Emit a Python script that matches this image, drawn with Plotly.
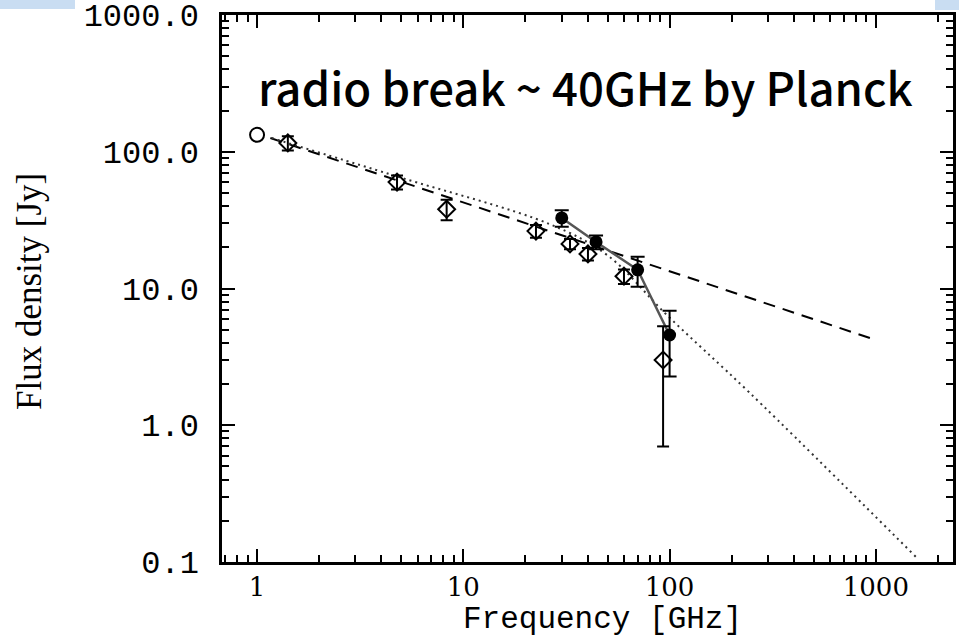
import plotly.graph_objects as go

# ---- data ----
# open circle (lowest frequency point)
circ_f = [1.0]
circ_s = [133.0]

# open diamonds with error bars
dia_f = [1.41, 4.77, 8.3, 22.5, 32.9, 40.2, 60.1, 93.0]
dia_s = [116.0, 60.0, 38.0, 26.3, 21.2, 17.9, 12.3, 3.0]
dia_e = [14.0, 7.0, 6.5, 2.8, 1.8, 1.9, 1.5, 2.3]

# filled circles (Planck) with error bars
pl_f = [30.0, 44.0, 70.0, 100.0]
pl_s = [32.8, 21.9, 13.7, 4.57]
pl_e = [4.5, 2.5, 3.4, 2.3]

# dashed power-law fit
dash_f = [1.16, 1000.0]
dash_s = [126.0, 4.2]

# dotted broken power-law fit
dot_f = [1.18, 4.93, 26.3, 49.7, 97.0, 245.0, 1582.0]
dot_s = [126.0, 65.0, 29.5, 17.6, 6.4, 1.72, 0.107]

x_tickvals = [1, 10, 100, 1000]
x_ticktext = ["1", "10", "100", "1000"]
y_tickvals = [0.1, 1, 10, 100, 1000]
y_ticktext = ["0.1", "1.0", "10.0", "100.0", "1000.0"]

title_text = "radio break ~ 40GHz by Planck"
x_title = "Frequency [GHz]"
y_title = "Flux density [Jy]"

# minor tick positions
x_minor = []
for dec in [0.1, 1, 10, 100, 1000]:
    for m in range(2, 10):
        v = m * dec
        if 0.67 <= v <= 2400:
            x_minor.append(v)
y_minor = []
for dec in [0.1, 1, 10, 100]:
    for m in range(2, 10):
        y_minor.append(m * dec)

XR = [-0.17, 3.374]
YR = [-1.0005, 3.0005]

fig = go.Figure()

fig.add_trace(go.Scatter(x=dash_f, y=dash_s, mode="lines",
                         line=dict(color="black", width=2, dash="12px,8px"),
                         showlegend=False))
fig.add_trace(go.Scatter(x=dot_f, y=dot_s, mode="lines", line_shape="spline",
                         line=dict(color="#333333", width=2, dash="2px,4px"),
                         showlegend=False))
fig.add_trace(go.Scatter(x=pl_f, y=pl_s, mode="lines",
                         line=dict(color="#555555", width=2.5),
                         showlegend=False))
fig.add_trace(go.Scatter(x=dia_f, y=dia_s, mode="markers",
                         marker=dict(symbol="diamond-open", size=13, color="black",
                                     line=dict(color="black", width=2)),
                         error_y=dict(type="data", array=dia_e, color="black",
                                      thickness=2, width=6),
                         showlegend=False))
fig.add_trace(go.Scatter(x=pl_f, y=pl_s, mode="markers",
                         marker=dict(symbol="circle", size=13, color="black"),
                         error_y=dict(type="data", array=pl_e, color="black",
                                      thickness=2, width=7),
                         showlegend=False))
# open circle drawn on the overlay axes (identical ranges) so they carry minor ticks
fig.add_trace(go.Scatter(x=circ_f, y=circ_s, mode="markers", xaxis="x2", yaxis="y2",
                         marker=dict(symbol="circle-open", size=14, color="black",
                                     line=dict(color="black", width=2)),
                         showlegend=False))

fig.update_layout(
    width=959, height=639,
    margin=dict(l=222, r=6, t=15, b=77, autoexpand=False),
    paper_bgcolor="white", plot_bgcolor="white",
    xaxis=dict(type="log", range=XR, automargin=False,
               tickvals=x_tickvals, ticktext=x_ticktext,
               ticks="inside", ticklen=13, tickwidth=2, tickcolor="black",
               showline=True, linewidth=2.5, linecolor="black", mirror="allticks",
               showgrid=False, zeroline=False,
               tickfont=dict(family="DejaVu Serif", size=26, color="black"),
               ticklabelstandoff=0),
    yaxis=dict(type="log", range=YR, automargin=False,
               tickvals=y_tickvals, ticktext=y_ticktext,
               ticks="inside", ticklen=13, tickwidth=2, tickcolor="black",
               showline=True, linewidth=2.5, linecolor="black", mirror="allticks",
               showgrid=False, zeroline=False, ticklabeloverflow="allow",
               tickfont=dict(family="Liberation Mono", size=32, color="black"),
               ticklabelstandoff=14),
    xaxis2=dict(type="log", range=XR, overlaying="x", anchor="y2", side="bottom",
                automargin=False,
                tickmode="array", tickvals=x_minor, showticklabels=False,
                ticks="inside", ticklen=7, tickwidth=1.5, tickcolor="black",
                showline=True, linewidth=2.5, linecolor="black", mirror="allticks",
                showgrid=False, zeroline=False),
    yaxis2=dict(type="log", range=YR, overlaying="y", anchor="x2", side="left",
                automargin=False,
                tickmode="array", tickvals=y_minor, showticklabels=False,
                ticks="inside", ticklen=7, tickwidth=1.5, tickcolor="black",
                showline=True, linewidth=2.5, linecolor="black", mirror="allticks",
                showgrid=False, zeroline=False),
    annotations=[
        dict(text=title_text, xref="paper", yref="paper",
             x=(585 - 222) / 731, y=(562 - 86) / 547, showarrow=False,
             xanchor="center", yanchor="middle",
             font=dict(family="Noto Sans CJK KR", size=45.5, color="black", weight=500)),
        dict(text=x_title, xref="paper", yref="paper",
             x=(602 - 222) / 731, y=(562 - 639) / 547, showarrow=False,
             xanchor="center", yanchor="bottom",
             font=dict(family="Liberation Mono", size=31, color="black")),
        dict(text=y_title, xref="paper", yref="paper",
             x=(30 - 222) / 731, y=(562 - 292) / 547, showarrow=False,
             textangle=-90, xanchor="center", yanchor="middle",
             font=dict(family="Liberation Serif", size=35, color="black")),
    ],
    shapes=[
        dict(type="rect", xref="paper", yref="paper",
             x0=(0 - 222) / 731, x1=(75 - 222) / 731,
             y0=(562 - 9) / 547, y1=(562 - 0) / 547,
             fillcolor="#c9ddf2", line=dict(width=0)),
        dict(type="rect", xref="paper", yref="paper",
             x0=(935 - 222) / 731, x1=(959 - 222) / 731,
             y0=(562 - 10) / 547, y1=(562 - 0) / 547,
             fillcolor="#c9ddf2", line=dict(width=0)),
    ],
)

fig.write_html("out.html")
